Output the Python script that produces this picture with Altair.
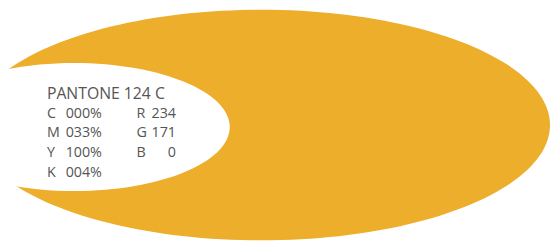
import altair as alt
import pandas as pd

# --- data -------------------------------------------------------------
swatch_name = ["PANTONE 124 C"]
cmyk_letters = ["C", "M", "Y", "K"]
cmyk_values = ["000%", "033%", "100%", "004%"]
rgb_letters = ["R", "G", "B"]
rgb_values = [234, 171, 0]

swatch_color = "#ECAE2B"
text_color = "#555555"
FONT = "Open Sans"

# --- shapes (decorative ellipse symbols) ------------------------------
def ellipse_path(ratio):
    k = 0.5523
    r = ratio
    return (f"M -1 0 C -1 {-r*k:.4f} {-k} {-r:.4f} 0 {-r:.4f} "
            f"C {k} {-r:.4f} 1 {-r*k:.4f} 1 0 "
            f"C 1 {r*k:.4f} {k} {r:.4f} 0 {r:.4f} "
            f"C {-k} {r:.4f} -1 {r*k:.4f} -1 0 Z")

swatch_df = pd.DataFrame({"name": swatch_name})

big_rx, big_ry = 293, 117
white_rx, white_ry = 158, 65

big = alt.Chart(swatch_df).mark_point(
    shape=ellipse_path(big_ry / big_rx), filled=True, opacity=1,
    color=swatch_color, strokeWidth=0,
).encode(x=alt.value(257), y=alt.value(117), size=alt.value((2 * big_rx) ** 2))

hole = alt.Chart(swatch_df).mark_point(
    shape=ellipse_path(white_ry / white_rx), filled=True, opacity=1,
    color="white", strokeWidth=0,
).encode(x=alt.value(67), y=alt.value(119), size=alt.value((2 * white_rx) ** 2))

title = alt.Chart(swatch_df).mark_text(
    align="left", baseline="alphabetic", font=FONT, fontSize=16, color=text_color,
).encode(x=alt.value(39.5), y=alt.value(90.5), text="name:N")

cmyk_df = pd.DataFrame({"row": list(range(len(cmyk_letters))),
                        "letter": cmyk_letters, "value": cmyk_values})
rgb_df = pd.DataFrame({"row": list(range(len(rgb_letters))),
                       "letter": rgb_letters, "value": [str(v) for v in rgb_values]})

yscale = alt.Scale(domain=[0, 3], range=[109.5, 169.5])
ykw = dict(y=alt.Y("row:Q", scale=yscale, axis=None))

def txt(df, field, x, align):
    return alt.Chart(df).mark_text(
        align=align, baseline="alphabetic", font=FONT, fontSize=14.5, color=text_color,
    ).encode(x=alt.value(x), text=f"{field}:N", **ykw)

layers = [
    big, hole, title,
    txt(cmyk_df, "letter", 39.5, "left"),
    txt(cmyk_df, "value", 58.5, "left"),
    txt(rgb_df, "letter", 130.5, "left"),
    txt(rgb_df, "value", 170.5, "right"),
]

chart = alt.layer(*layers).properties(
    width=550, height=235, padding=0, autosize=alt.AutoSizeParams(type="none"),
).configure_view(stroke=None)

chart.save("out.html", embed_options={"renderer": "svg", "actions": False})
